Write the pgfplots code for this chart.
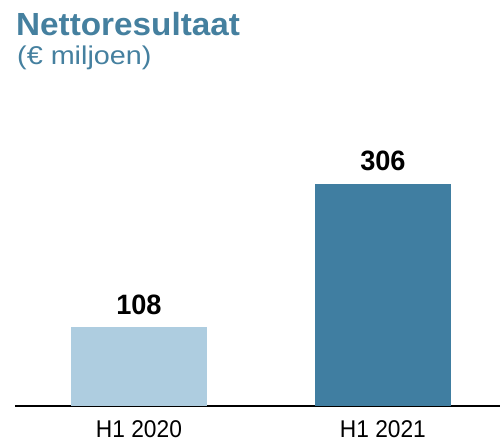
\documentclass[border=0pt]{standalone}
\usepackage{fontspec}
\setmainfont{Liberation Sans}
\newfontfamily\titlefont[FakeStretch=1.04]{Liberation Sans}
\newfontfamily\subfont[FakeStretch=1.12]{Liberation Sans}
\newfontfamily\tickfont[FakeStretch=0.94]{Liberation Sans}
\newfontfamily\numfont[FakeStretch=0.97]{Liberation Sans}
\usepackage{pgfplots}
\pgfplotsset{compat=1.18}
\definecolor{titleblue}{HTML}{45809F}
\definecolor{lightbar}{HTML}{AECDE0}
\definecolor{darkbar}{HTML}{407EA1}
\begin{document}
\begin{tikzpicture}[x=1bp,y=1bp]
\path[use as bounding box] (0,0) rectangle (500,442);
\node[anchor=base west,inner sep=0pt,text=titleblue,font=\titlefont\bfseries\fontsize{32bp}{34bp}\selectfont] at (16,406.3) {Nettoresultaat};
\node[anchor=base west,inner sep=0pt,text=titleblue,font=\subfont\fontsize{25.7bp}{28bp}\selectfont] at (17,377) {(€ miljoen)};
\begin{axis}[
  at={(15bp,36bp)}, anchor=south west,
  scale only axis, width=485bp, height=290.8bp,
  xmin=-0.508, xmax=1.48, ymin=0, ymax=400,
  ybar, bar shift=0pt, bar width=136bp,
  axis y line=none,
  axis x line*=bottom,
  x axis line style={black, line width=1.5bp, -},
  xtick={0,1}, xticklabels={H1 2020, H1 2021},
  major tick length=0pt,
  xticklabel style={anchor=base, inner sep=0pt, yshift=-31.3bp, font=\tickfont\fontsize{24.2bp}{26bp}\selectfont},
  /pgf/number format/assume math mode=true,
  nodes near coords,
  every node near coord/.append style={anchor=base, inner sep=0pt, yshift=13bp, font=\numfont\bfseries\fontsize{28bp}{30bp}\selectfont, text=black},
  clip=false,
]
\addplot[fill=lightbar, draw=none] coordinates {(0,108)};
\addplot[fill=darkbar, draw=none] coordinates {(1,306)};
\end{axis}
\end{tikzpicture}
\end{document}
